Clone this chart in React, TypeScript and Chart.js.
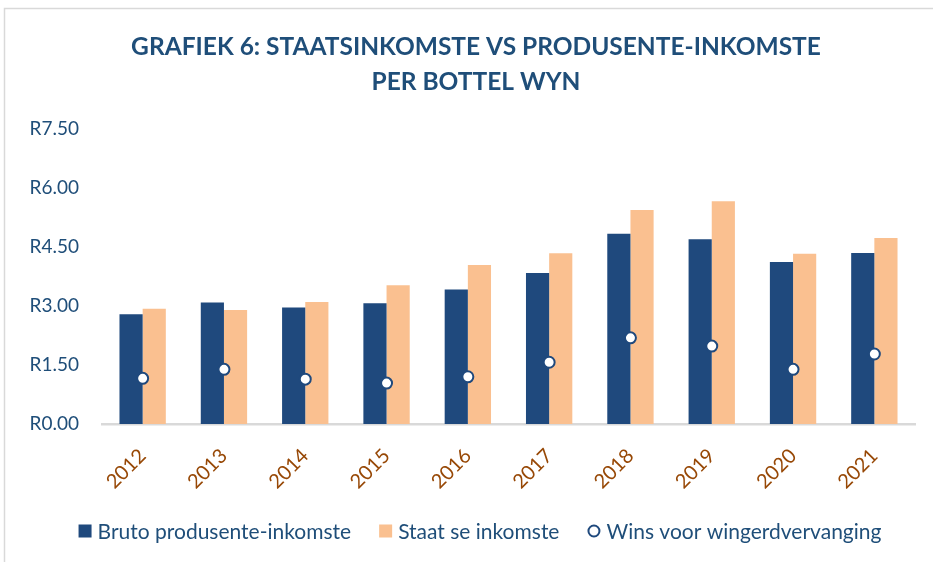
import React, { useEffect, useRef } from "react";
import { Chart, registerables } from "chart.js";

Chart.register(...registerables);

const years = ["2012", "2013", "2014", "2015", "2016", "2017", "2018", "2019", "2020", "2021"];
const brutoProdusente = [2.79, 3.09, 2.96, 3.07, 3.42, 3.84, 4.84, 4.7, 4.12, 4.35];
const staatInkomste = [2.93, 2.9, 3.1, 3.53, 4.04, 4.34, 5.44, 5.66, 4.33, 4.73];
const winsWingerd = [1.16, 1.39, 1.14, 1.04, 1.2, 1.57, 2.19, 1.98, 1.39, 1.78];
const seriesLabels = ["Bruto produsente-inkomste", "Staat se inkomste", "Wins voor wingerdvervanging"];
const titleLines = ["GRAFIEK 6: STAATSINKOMSTE VS PRODUSENTE-INKOMSTE", "PER BOTTEL WYN"];
const yMin = 0;
const yMax = 7.5;
const yStep = 1.5;

const DARK = "#1f497d";
const LIGHT = "#fac090";
const TEXT_BLUE = "#1f4e79";
const BROWN = "#974806";
const FONT = "Lato, 'Open Sans', sans-serif";

const framePlugin = {
  id: "frame",
  beforeDraw(chart: any) {
    const ctx = chart.ctx;
    ctx.save();
    ctx.fillStyle = "#ffffff";
    ctx.fillRect(0, 0, chart.width, chart.height);
    ctx.strokeStyle = "#d9d9d9";
    ctx.lineWidth = 1.5;
    ctx.beginPath();
    ctx.moveTo(4.5, chart.height);
    ctx.lineTo(4.5, 8.5);
    ctx.lineTo(chart.width, 8.5);
    ctx.stroke();
    ctx.restore();
  },
};

const titlePlugin = {
  id: "customTitle",
  afterDraw(chart: any) {
    const ctx = chart.ctx;
    ctx.save();
    ctx.font = `bold 24.5px ${FONT}`;
    ctx.fillStyle = TEXT_BLUE;
    ctx.textAlign = "center";
    ctx.textBaseline = "middle";
    titleLines.forEach((line, i) => {
      ctx.fillText(line, 476, 47 + i * 35);
    });
    ctx.restore();
  },
};

const legendPlugin = {
  id: "customLegend",
  afterDraw(chart: any) {
    const ctx = chart.ctx;
    const ds = chart.data.datasets;
    const box = 13;
    const gap = 6;
    const spacing = 28;
    ctx.save();
    ctx.font = `21px ${FONT}`;
    const widths = ds.map((d: any) => box + gap + ctx.measureText(d.label).width);
    const total = widths.reduce((a: number, b: number) => a + b, 0) + spacing * (ds.length - 1);
    let x = 480 - total / 2;
    const y = 531;
    ds.forEach((d: any, i: number) => {
      if (d.type === "line") {
        ctx.beginPath();
        ctx.arc(x + box / 2, y, 5.5, 0, Math.PI * 2);
        ctx.fillStyle = "#ffffff";
        ctx.fill();
        ctx.lineWidth = 2;
        ctx.strokeStyle = DARK;
        ctx.stroke();
      } else {
        ctx.fillStyle = d.backgroundColor;
        ctx.fillRect(x, y - box / 2, box, box);
      }
      ctx.fillStyle = TEXT_BLUE;
      ctx.textBaseline = "middle";
      ctx.textAlign = "left";
      ctx.fillText(d.label, x + box + gap, y + 1);
      x += widths[i] + spacing;
    });
    ctx.restore();
  },
};

export default function App() {
  const ref = useRef<HTMLCanvasElement | null>(null);

  useEffect(() => {
    document.body.style.margin = "0";
    const canvas = ref.current;
    if (!canvas) return;
    const chart = new Chart(canvas, {
      type: "bar",
      data: {
        labels: years,
        datasets: [
          {
            type: "bar",
            label: seriesLabels[0],
            data: brutoProdusente,
            backgroundColor: DARK,
            order: 1,
          },
          {
            type: "bar",
            label: seriesLabels[1],
            data: staatInkomste,
            backgroundColor: LIGHT,
            order: 1,
          },
          {
            type: "line",
            label: seriesLabels[2],
            data: winsWingerd,
            showLine: false,
            pointRadius: 5.5,
            pointHoverRadius: 5.5,
            pointBackgroundColor: "#ffffff",
            pointBorderColor: DARK,
            pointBorderWidth: 2,
            borderColor: DARK,
            backgroundColor: "#ffffff",
            order: 0,
          } as any,
        ],
      },
      options: {
        animation: false,
        responsive: false,
        maintainAspectRatio: false,
        layout: { padding: { left: 8, right: 18, top: 129, bottom: 60 } },
        datasets: {
          bar: { categoryPercentage: 0.57, barPercentage: 1 },
        } as any,
        plugins: {
          legend: { display: false },
          tooltip: { enabled: false },
          title: { display: false },
        },
        scales: {
          x: {
            grid: { display: false, drawTicks: false },
            border: { display: true, color: "#d9d9d9", width: 2.5 },
            ticks: {
              color: BROWN,
              font: { family: FONT, size: 20 },
              minRotation: 45,
              maxRotation: 45,
              padding: 20,
            },
            afterFit: (scale: any) => {
              scale.height = 78;
            },
          },
          y: {
            min: yMin,
            max: yMax,
            grid: { display: false, drawTicks: false },
            border: { display: false },
            ticks: {
              stepSize: yStep,
              color: TEXT_BLUE,
              font: { family: FONT, size: 19 },
              padding: 23,
              callback: (v: any) => "R" + Number(v).toFixed(2),
            },
            afterFit: (scale: any) => {
              scale.width = 94;
            },
          },
        },
      },
      plugins: [framePlugin, titlePlugin, legendPlugin],
    });
    return () => chart.destroy();
  }, []);

  return (
    <div style={{ width: 933, height: 562 }}>
      <canvas ref={ref} width={933} height={562} style={{ display: "block" }} />
    </div>
  );
}
